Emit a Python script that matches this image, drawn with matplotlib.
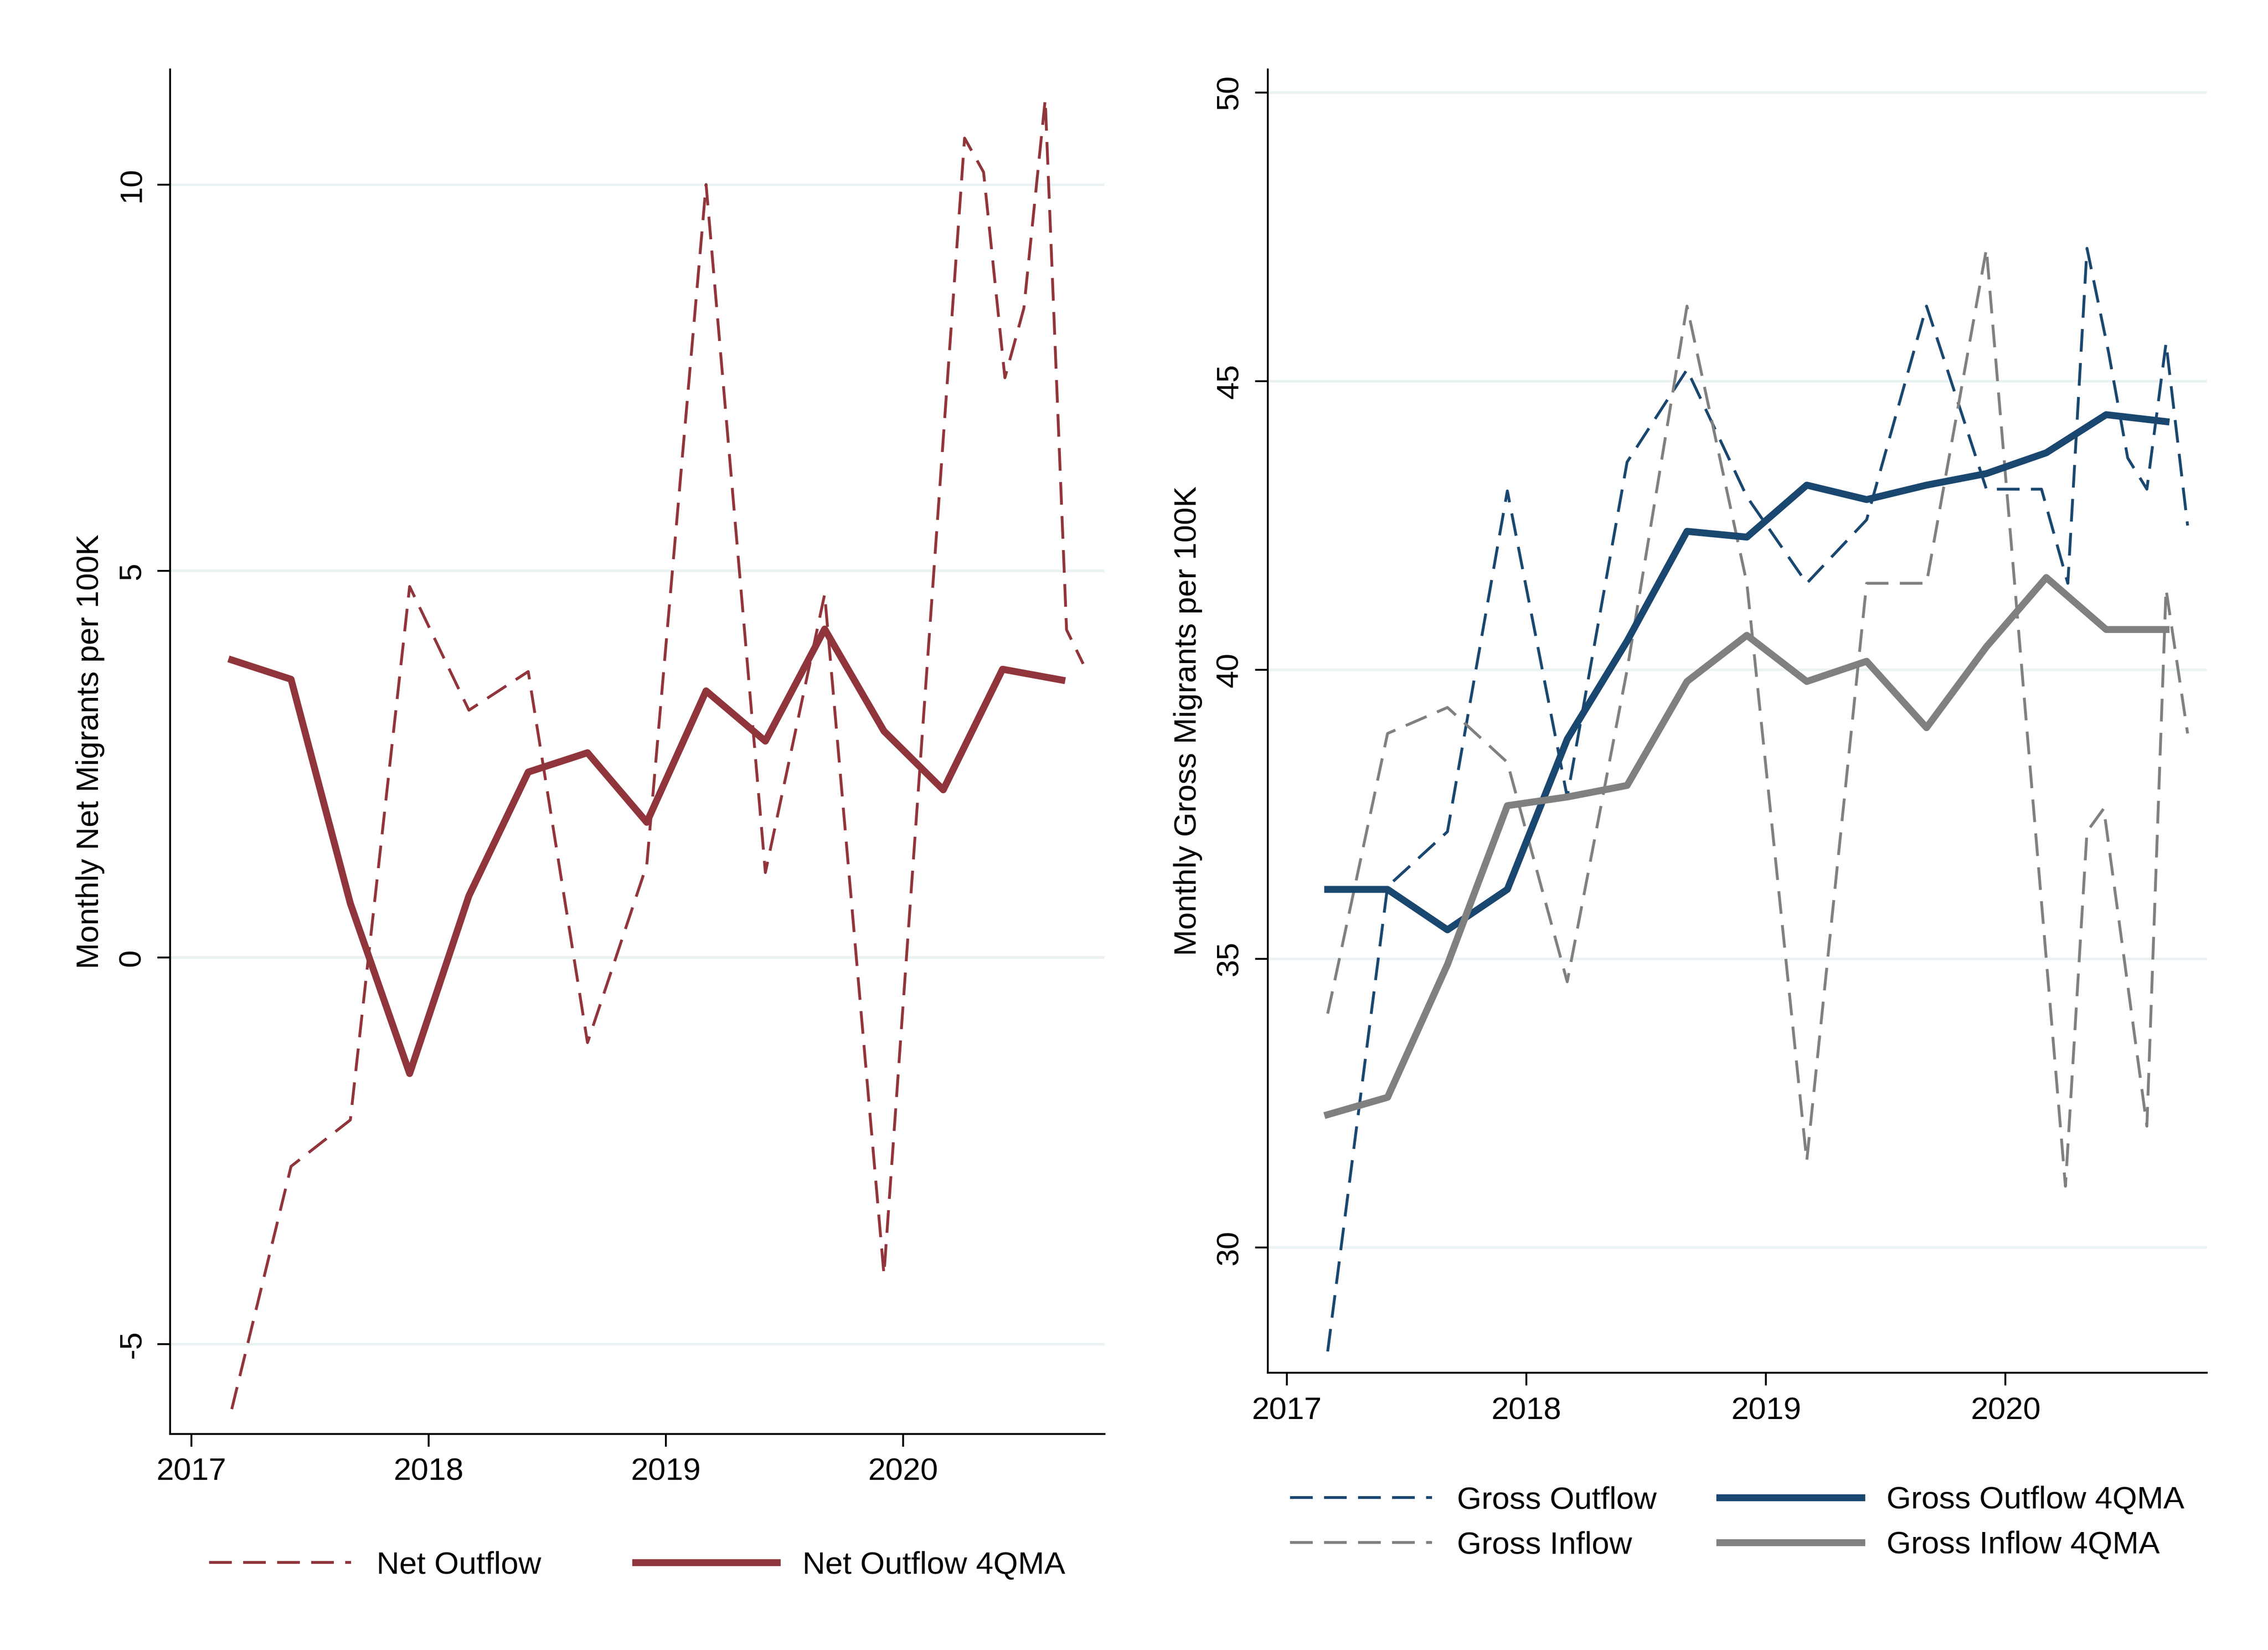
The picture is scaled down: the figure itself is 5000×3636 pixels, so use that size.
import matplotlib.pyplot as plt
from matplotlib.lines import Line2D

plt.rcParams['font.family'] = ['Liberation Sans', 'DejaVu Sans']
plt.rcParams['font.size'] = 10

RED = "#90353b"
NAVY = "#1a476f"
GRAY = "#808080"
GRID = "#eaf2f3"

# ---- Net migration (left) ----
net_x = [2017.17, 2017.42, 2017.67, 2017.92, 2018.17, 2018.42, 2018.67, 2018.92,
         2019.17, 2019.42, 2019.67, 2019.92, 2020.26, 2020.34, 2020.43, 2020.51,
         2020.60, 2020.69, 2020.76]
net_out = [-5.84, -2.7, -2.1, 4.8, 3.2, 3.7, -1.1, 1.2,
           10.0, 1.1, 4.7, -4.1, 10.6, 10.16, 7.5, 8.4,
           11.1, 4.24, 3.8]
ma_x = [2017.17 + 0.25 * k for k in range(15)]
net_ma = [3.85, 3.6, 0.7, -1.5, 0.8, 2.4, 2.65, 1.75, 3.45, 2.8, 4.25, 2.93, 2.17, 3.73, 3.59]

# ---- Gross migration (right) ----
gout_x = [2017.17, 2017.42, 2017.67, 2017.92, 2018.17, 2018.42, 2018.67, 2018.92,
          2019.17, 2019.42, 2019.67, 2019.92, 2020.15, 2020.26, 2020.34, 2020.43,
          2020.51, 2020.59, 2020.67, 2020.76]
gross_out = [28.2, 36.25, 37.2, 43.1, 37.8, 43.6, 45.2, 43.0,
             41.5, 42.6, 46.3, 43.13, 43.13, 41.5, 47.3, 45.5,
             43.67, 43.13, 45.66, 42.5]
gin_x = [2017.17, 2017.42, 2017.67, 2017.92, 2018.17, 2018.42, 2018.67, 2018.92,
         2019.17, 2019.42, 2019.67, 2019.92, 2020.25, 2020.34, 2020.41, 2020.59,
         2020.67, 2020.76]
gross_in = [34.05, 38.9, 39.35, 38.4, 34.6, 40.0, 46.3, 41.5,
            31.5, 41.5, 41.5, 47.29, 31.06, 37.2, 37.6, 32.1,
            41.4, 38.9]
gout_ma = [36.2, 36.2, 35.5, 36.2, 38.8, 40.5, 42.4, 42.3, 43.2, 42.95, 43.2, 43.4, 43.76, 44.42, 44.3]
gin_ma = [32.3, 32.6, 34.9, 37.65, 37.8, 38.0, 39.8, 40.6, 39.8, 40.15, 39.0, 40.4, 41.6, 40.7, 40.7]

years = [2017, 2018, 2019, 2020]

fig = plt.figure(figsize=(10, 7.272), dpi=500)
ax1 = fig.add_axes([0.075, 0.131, 0.412, 0.827])
ax2 = fig.add_axes([0.559, 0.168, 0.414, 0.79])


def style(ax, yticks):
    for s in ["top", "right"]:
        ax.spines[s].set_visible(False)
    ax.set_xticks(years)
    ax.set_yticks(yticks)
    ax.set_yticklabels([str(v) for v in yticks], rotation=90, va="center")
    ax.grid(axis="y", color=GRID, linewidth=0.8)
    ax.set_axisbelow(True)
    ax.tick_params(direction="out", length=4, width=0.6)
    for s in ["left", "bottom"]:
        ax.spines[s].set_linewidth(0.6)


dash = (0, (8, 4))

ax1.plot(net_x, net_out, color=RED, lw=0.9, linestyle=dash)
ax1.plot(ma_x, net_ma, color=RED, lw=2.2, solid_joinstyle="round")
ax1.set_xlim(2016.91, 2020.85)
ax1.set_ylim(-6.16, 11.49)
style(ax1, [-5, 0, 5, 10])
ax1.set_ylabel("Monthly Net Migrants per 100K")
ax1.legend(handles=[Line2D([], [], color=RED, lw=0.9, linestyle=dash),
                    Line2D([], [], color=RED, lw=2.2)],
           labels=["Net Outflow", "Net Outflow 4QMA"],
           loc="upper center", bbox_to_anchor=(0.5, -0.065), ncol=2,
           frameon=False, handlelength=4.5, columnspacing=3)

ax2.plot(gout_x, gross_out, color=NAVY, lw=0.9, linestyle=dash)
ax2.plot(gin_x, gross_in, color=GRAY, lw=0.9, linestyle=dash)
ax2.plot(ma_x, gout_ma, color=NAVY, lw=2.2, solid_joinstyle="round")
ax2.plot(ma_x, gin_ma, color=GRAY, lw=2.2, solid_joinstyle="round")
ax2.set_xlim(2016.92, 2020.84)
ax2.set_ylim(27.83, 50.4)
style(ax2, [30, 35, 40, 45, 50])
ax2.set_ylabel("Monthly Gross Migrants per 100K")
ax2.legend(handles=[Line2D([], [], color=NAVY, lw=0.9, linestyle=dash),
                    Line2D([], [], color=GRAY, lw=0.9, linestyle=dash),
                    Line2D([], [], color=NAVY, lw=2.2),
                    Line2D([], [], color=GRAY, lw=2.2)],
           labels=["Gross Outflow", "Gross Inflow", "Gross Outflow 4QMA", "Gross Inflow 4QMA"],
           loc="upper center", bbox_to_anchor=(0.5, -0.065), ncol=2,
           frameon=False, handlelength=4.5, columnspacing=2)

fig.savefig("out.png", dpi=500, facecolor="white")
